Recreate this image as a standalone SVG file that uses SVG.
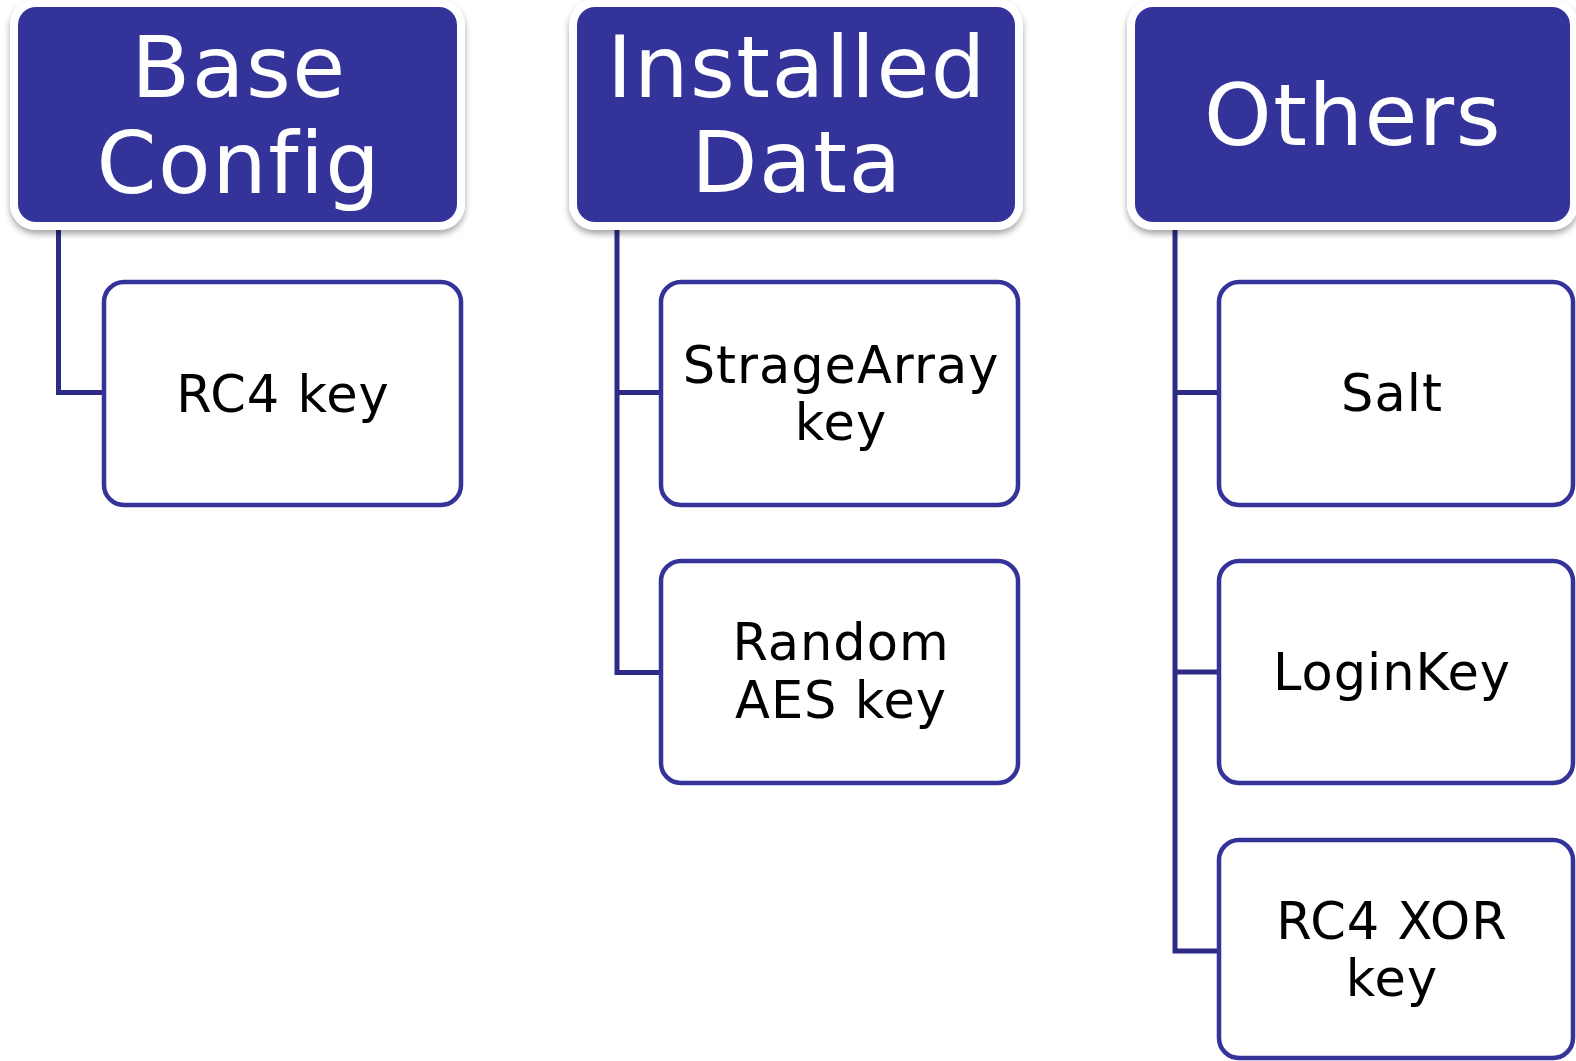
<svg xmlns="http://www.w3.org/2000/svg" width="1576" height="1061" viewBox="0 0 1576 1061">
  <style>
    .hdr-frame { fill: #ffffff; filter: url(#shadow); }
    .hdr-fill { fill: #343399; }
    .hdr-text { fill: #ffffff; font-family: "DejaVu Sans", "Liberation Sans", sans-serif; font-size: 86px; letter-spacing: 1.5px; text-anchor: middle; font-variant-ligatures: none; }
    .box { fill: #ffffff; stroke: #343399; stroke-width: 4.5; }
    .box-text { fill: #000000; font-family: "DejaVu Sans", "Liberation Sans", sans-serif; font-size: 51px; letter-spacing: 1px; text-anchor: middle; font-variant-ligatures: none; }
    .link { fill: none; stroke: #2c2b85; stroke-width: 5; stroke-linejoin: miter; }
  </style>
  <defs>
    <filter id="shadow" x="-5%" y="-5%" width="110%" height="115%">
      <feDropShadow dx="0" dy="4" stdDeviation="3" flood-color="#000000" flood-opacity="0.35"/>
    </filter>
  </defs>

  <rect width="1576" height="1061" fill="#ffffff"/>

  <!-- tree connectors -->
  <g id="connectors">
    <path class="link" d="M58.5,226 V392.5 H104"/>
    <path class="link" d="M617,226 V672.5 H661 M617,392.5 H661"/>
    <path class="link" d="M1175,226 V951 H1219 M1175,392.5 H1219 M1175,672 H1219"/>
  </g>

  <!-- column headers -->
  <g id="hdr-base-config">
    <rect class="hdr-frame" x="10" y="-1" width="455" height="231" rx="26"/>
    <rect class="hdr-fill" x="18" y="7" width="439" height="215" rx="18"/>
    <text class="hdr-text" x="239" y="97">Base</text>
    <text class="hdr-text" x="239" y="193">Config</text>
  </g>
  <g id="hdr-installed-data">
    <rect class="hdr-frame" x="569" y="-1" width="454" height="231" rx="26"/>
    <rect class="hdr-fill" x="577" y="7" width="438" height="215" rx="18"/>
    <text class="hdr-text" x="797" y="97">Installed</text>
    <text class="hdr-text" x="797" y="192">Data</text>
  </g>
  <g id="hdr-others">
    <rect class="hdr-frame" x="1127" y="-1" width="451" height="231" rx="26"/>
    <rect class="hdr-fill" x="1135" y="7" width="435" height="215" rx="18"/>
    <text class="hdr-text" x="1353" y="145">Others</text>
  </g>

  <!-- leaf nodes -->
  <g id="rc4-key">
    <rect class="box" x="104" y="282" width="357" height="223" rx="20"/>
    <text class="box-text" x="283" y="412">RC4 key</text>
  </g>
  <g id="stragearray-key">
    <rect class="box" x="661" y="282" width="357" height="223" rx="20"/>
    <text class="box-text" x="841" y="383">StrageArray</text>
    <text class="box-text" x="841" y="440">key</text>
  </g>
  <g id="random-aes-key">
    <rect class="box" x="661" y="561" width="357" height="222" rx="20"/>
    <text class="box-text" x="841" y="660">Random</text>
    <text class="box-text" x="841" y="718">AES key</text>
  </g>
  <g id="salt">
    <rect class="box" x="1219" y="282" width="354" height="223" rx="20"/>
    <text class="box-text" x="1392" y="411">Salt</text>
  </g>
  <g id="loginkey">
    <rect class="box" x="1219" y="561" width="354" height="222" rx="20"/>
    <text class="box-text" x="1392" y="690">LoginKey</text>
  </g>
  <g id="rc4-xor-key">
    <rect class="box" x="1219" y="840" width="354" height="218" rx="20"/>
    <text class="box-text" x="1392" y="939">RC4 XOR</text>
    <text class="box-text" x="1392" y="996">key</text>
  </g>
</svg>
